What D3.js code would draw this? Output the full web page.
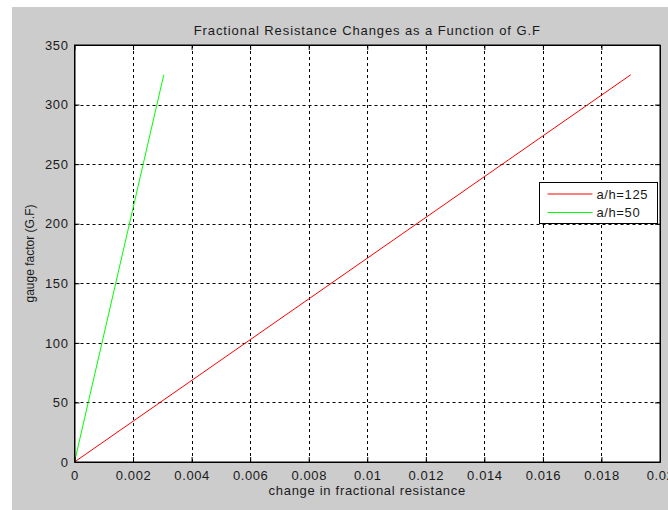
<!DOCTYPE html>
<html>
<head>
<meta charset="utf-8">
<script src="https://cdn.jsdelivr.net/npm/d3@7"></script>
<style>
  body { margin: 0; background: #fff; }
  text { font-family: "Liberation Sans", Arial, sans-serif; fill: #1a1a1a; }
</style>
</head>
<body>
<div id="chart"></div>
<script>
// gauge factor values (y) and change in fractional resistance (x) per series
const gaugeFactor = [0, 325];
const deltaR125 = [0, 0.0190];
const deltaR50 = [0, 0.00305];
const seriesNames = ["a/h=125", "a/h=50"];
const seriesColors = ["#ff0000", "#00ff00"];
const xTicks = [0, 0.002, 0.004, 0.006, 0.008, 0.01, 0.012, 0.014, 0.016, 0.018, 0.02];
const yTicks = [0, 50, 100, 150, 200, 250, 300, 350];

const series = [deltaR125, deltaR50].map((xs, i) => ({
    name: seriesNames[i],
    color: seriesColors[i],
    points: xs.map((x, j) => [x, gaugeFactor[j]])
}));

const width = 668, height = 510;
const margin = { top: 45, right: 8, bottom: 48, left: 74.5 };

const svg = d3.select("#chart")
    .append("svg")
    .attr("width", width)
    .attr("height", height);

// figure background
svg.append("rect")
    .attr("x", 12).attr("y", 7)
    .attr("width", width - 12).attr("height", height - 7)
    .attr("fill", "#cccccc");

const x = d3.scaleLinear().domain([0, 0.02]).range([margin.left, width - margin.right]);
const y = d3.scaleLinear().domain([0, 350]).range([height - margin.bottom, margin.top]);

// plot area
svg.append("rect")
    .attr("x", x(0)).attr("y", y(350))
    .attr("width", x(0.02) - x(0)).attr("height", y(0) - y(350))
    .attr("fill", "#fff");

// grid
const grid = svg.append("g")
    .attr("stroke", "#000")
    .attr("stroke-width", 1)
    .attr("stroke-dasharray", "3,3");
grid.selectAll(".vgrid")
    .data(xTicks.slice(1, -1))
    .join("line")
    .attr("class", "vgrid")
    .attr("x1", d => Math.round(x(d)) + 0.5)
    .attr("x2", d => Math.round(x(d)) + 0.5)
    .attr("y1", y(350))
    .attr("y2", y(0));
grid.selectAll(".hgrid")
    .data(yTicks.slice(1, -1))
    .join("line")
    .attr("class", "hgrid")
    .attr("x1", x(0))
    .attr("x2", x(0.02))
    .attr("y1", d => Math.round(y(d)) + 0.5)
    .attr("y2", d => Math.round(y(d)) + 0.5);

// data lines
const line = d3.line().x(d => x(d[0])).y(d => y(d[1]));
svg.append("g")
    .selectAll("path")
    .data(series)
    .join("path")
    .attr("d", d => line(d.points))
    .attr("fill", "none")
    .attr("stroke", d => d.color)
    .attr("stroke-width", 1);

// axes (ticks pointing inward, MATLAB style)
const fmt = d => d === 0 ? "0" : String(+d.toFixed(4));
svg.append("g")
    .attr("transform", `translate(0,${y(0)})`)
    .call(d3.axisBottom(x).tickValues(xTicks).tickFormat(fmt).tickSizeInner(-5).tickSizeOuter(0).tickPadding(9));
svg.append("g")
    .attr("transform", `translate(${x(0)},0)`)
    .call(d3.axisLeft(y).tickValues(yTicks).tickSizeInner(-5).tickSizeOuter(0).tickPadding(6));
svg.append("g")
    .attr("transform", `translate(0,${y(350)})`)
    .call(d3.axisTop(x).tickValues(xTicks).tickFormat("").tickSizeInner(-5).tickSizeOuter(0));
svg.append("g")
    .attr("transform", `translate(${x(0.02)},0)`)
    .call(d3.axisRight(y).tickValues(yTicks).tickFormat("").tickSizeInner(-5).tickSizeOuter(0));
svg.selectAll(".domain").attr("stroke", "#000");
svg.selectAll(".tick line").attr("stroke", "#000");
svg.selectAll(".tick text")
    .style("font-family", "'Liberation Sans', Arial, sans-serif")
    .style("font-size", "13px")
    .style("letter-spacing", "0.6px")
    .attr("fill", "#1a1a1a");

// axis box
svg.append("rect")
    .attr("x", x(0)).attr("y", y(350))
    .attr("width", x(0.02) - x(0)).attr("height", y(0) - y(350))
    .attr("fill", "none")
    .attr("stroke", "#000");

// title and labels
svg.append("text")
    .attr("x", (x(0) + x(0.02)) / 2)
    .attr("y", 35)
    .attr("text-anchor", "middle")
    .style("font-size", "13px")
    .style("letter-spacing", "0.9px")
    .text("Fractional Resistance Changes as a Function of G.F");
svg.append("text")
    .attr("x", (x(0) + x(0.02)) / 2)
    .attr("y", 495)
    .attr("text-anchor", "middle")
    .style("font-size", "13px")
    .style("letter-spacing", "0.7px")
    .text("change in fractional resistance");
svg.append("text")
    .attr("transform", `translate(34,${(y(0) + y(350)) / 2}) rotate(-90)`)
    .attr("text-anchor", "middle")
    .style("font-size", "12px")
    .text("gauge factor (G.F)");

// legend
const legend = svg.append("g").attr("transform", "translate(539.5,182.5)");
legend.append("rect")
    .attr("width", 118).attr("height", 41)
    .attr("fill", "#fff")
    .attr("stroke", "#000");
const items = legend.selectAll(".item")
    .data(series)
    .join("g")
    .attr("class", "item")
    .attr("transform", (d, i) => `translate(0,${11.5 + i * 18.5})`);
items.append("line")
    .attr("x1", 8).attr("x2", 53)
    .attr("stroke", d => d.color);
items.append("text")
    .attr("x", 57)
    .attr("dy", "0.35em")
    .style("font-size", "13px")
    .style("letter-spacing", "0.6px")
    .text(d => d.name);
</script>
</body>
</html>
